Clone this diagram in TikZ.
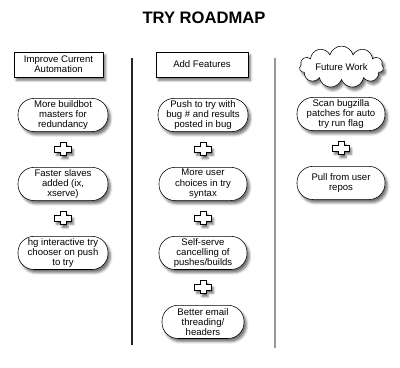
\documentclass[tikz,border=0pt]{standalone}
\usepackage{fontspec}
\setmainfont{Liberation Sans}
\usetikzlibrary{shapes.symbols, positioning, calc, shadows, shadows.blur}
\tikzset{
    header/.style={rectangle, minimum width=22.3mm, minimum height=6.3mm, inner sep=1pt, align=center, draw=black, fill=white, font=\fontsize{6.8}{7.3}\selectfont, blur shadow={shadow xshift=0.6mm, shadow yshift=-0.8mm, shadow blur radius=0.6mm, shadow opacity=55}},
    future/.style={cloud, cloud puffs=11, aspect=3, minimum width=21mm, minimum height=7.6mm, inner sep=1pt, align=center, draw=black, fill=white, font=\fontsize{6.8}{7.3}\selectfont, blur shadow={shadow xshift=0.6mm, shadow yshift=-0.8mm, shadow blur radius=0.6mm, shadow opacity=55}},
    idea/.style={rectangle, rounded corners=4mm, minimum width=22mm, minimum height=8.3mm, inner sep=1pt, align=center, draw=black, fill=white, font=\fontsize{6.8}{7.3}\selectfont, blur shadow={shadow xshift=0.6mm, shadow yshift=-0.8mm, shadow blur radius=0.6mm, shadow opacity=55}},
    divider/.style={line width=0.35mm},
    plussign/.pic={
        \draw[fill=white, line width=0.25mm, blur shadow={shadow xshift=0.5mm, shadow yshift=-0.7mm, shadow blur radius=0.5mm, shadow opacity=55}]
            (-3,-6.5) -- (3,-6.5) -- (3,-3) -- (8.5,-3) -- (8.5,3) -- (3,3) -- (3,6.5)
            -- (-3,6.5) -- (-3,3) -- (-8.5,3) -- (-8.5,-3) -- (-3,-3) -- cycle;
    }
}
\begin{document}
\begin{tikzpicture}[x=0.25mm, y=-0.25mm, node distance=8.8mm]
        \useasboundingbox (0,0) rectangle (400,368);
        % Title
        \node (title) at (204,18) {\fontsize{11.8}{13}\selectfont\bfseries TRY ROADMAP};

        % Column heads
        \node (lhead) [header] at (58.5,64.5) {Improve Current\\Automation};
        \node (mhead) [header, minimum width=23mm] at (202,64.5) {Add Features};
        \node (rhead) [future] at (341.5,67) {Future Work};

        % Dividers
        \draw [divider, black!85] (132,58) -- (132,345);
        \draw [divider, black!40] (275,58) -- (275,348);

        % Left column
        \node (l1) [idea, minimum width=22.5mm] at (63,115) {More buildbot\\masters for\\redundancy};
        \node (l2) [idea, minimum width=22.5mm, below=of l1] {Faster slaves\\added (ix,\\xserve)};
        \node (l3) [idea, minimum width=22.5mm, below=of l2] {hg interactive try\\chooser on push\\to try};

        % Middle column
        \node (m1) [idea, minimum width=22.5mm] at (203,115) {Push to try with\\bug \# and results\\posted in bug};
        \node (m2) [idea, below=of m1] {More user\\choices in try\\syntax};
        \node (m3) [idea, below=of m2] {Self-serve\\cancelling of\\pushes/builds};
        \node (m4) [idea, minimum width=20.5mm, below=of m3] {Better email\\threading/\\headers};

        % Right column
        \node (r1) [idea] at (341,114) {Scan bugzilla\\patches for auto\\try run flag};
        \node (r2) [idea, below=of r1] {Pull from user\\repos};

        % Plus signs
        \path ($(l1.south)!0.5!(l2.north)$) pic {plussign};
        \path ($(l2.south)!0.5!(l3.north)$) pic {plussign};
        \path ($(m1.south)!0.5!(m2.north)$) pic {plussign};
        \path ($(m2.south)!0.5!(m3.north)$) pic {plussign};
        \path ($(m3.south)!0.5!(m4.north)$) pic {plussign};
        \path ($(r1.south)!0.5!(r2.north)$) pic {plussign};
    \end{tikzpicture}
\end{document}
